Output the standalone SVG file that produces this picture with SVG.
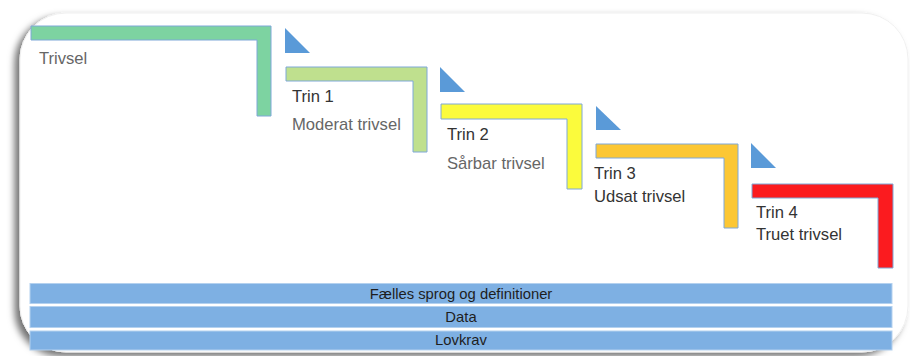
<svg xmlns="http://www.w3.org/2000/svg" width="910" height="356" viewBox="0 0 910 356">
<defs>
<filter id="sh" x="-5%" y="-10%" width="110%" height="120%">
<feDropShadow dx="-5" dy="4" stdDeviation="3.5" flood-color="#000" flood-opacity="0.55"/>
</filter>
</defs>
<style>
.step{stroke:#7fa8d8;stroke-width:1}
.tri{fill:#5a9ad8}
.t{font-family:"Liberation Sans",Arial,sans-serif;font-size:16.6px}
.dark{fill:#333}
.gray{fill:#666}
.bar{fill:#7eb0e3;stroke:#b4d1ef;stroke-width:1}
.bt{font-family:"Liberation Sans",Arial,sans-serif;font-size:14.8px;fill:#1e1e1e;text-anchor:middle}
</style>
<rect x="0" y="0" width="910" height="356" fill="#fff"/>
<rect id="frame" x="20" y="13" width="888" height="339" rx="46" fill="#fff" stroke="#f0f0f0" stroke-width="1" filter="url(#sh)"/>
<g id="connectors">
<polygon class="tri" points="285,28 285,53 310,53"/>
<polygon class="tri" points="440,67 440,92 465,92"/>
<polygon class="tri" points="596,106 596,130 621,130"/>
<polygon class="tri" points="751,143 751,168 776,168"/>
</g>
<g id="trivsel">
<path class="step" fill="#7dd3a1" d="M31,26 H271 V116 H257 V40 H31 Z"/>
<text class="t gray" x="39" y="64">Trivsel</text>
</g>
<g id="trin1">
<path class="step" fill="#bfe08e" d="M286,67 H427 V152 H413 V81 H286 Z"/>
<text class="t dark" x="292" y="102">Trin 1</text>
<text class="t gray" x="292" y="130">Moderat trivsel</text>
</g>
<g id="trin2">
<path class="step" fill="#fbfb3c" d="M441,104 H582 V189 H567 V119 H441 Z"/>
<text class="t dark" x="447" y="140">Trin 2</text>
<text class="t gray" x="447" y="169">Sårbar trivsel</text>
</g>
<g id="trin3">
<path class="step" fill="#fcc734" d="M596,144 H738 V228 H724 V158 H596 Z"/>
<text class="t dark" x="594" y="179">Trin 3</text>
<text class="t dark" x="594" y="202">Udsat trivsel</text>
</g>
<g id="trin4">
<path class="step" fill="#fb1b1f" d="M752,184 H893 V268 H878 V198 H752 Z"/>
<text class="t dark" x="756" y="218">Trin 4</text>
<text class="t dark" x="756" y="240">Truet trivsel</text>
</g>
<g id="faelles">
<rect class="bar" x="30" y="283.5" width="862" height="20"/>
<text class="bt" x="461" y="298.5">Fælles sprog og definitioner</text>
</g>
<g id="data">
<rect class="bar" x="30" y="306.5" width="862" height="21"/>
<text class="bt" x="461" y="322">Data</text>
</g>
<g id="lovkrav">
<rect class="bar" x="30" y="331" width="862" height="19"/>
<text class="bt" x="461" y="345">Lovkrav</text>
</g>
</svg>
